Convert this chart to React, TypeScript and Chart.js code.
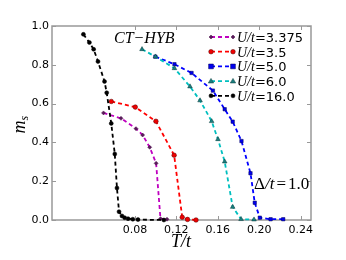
import React, { useEffect, useRef } from "react";
import { Chart, registerables } from "chart.js";

Chart.register(...registerables);

// ---- data ----
const seriesNames = ["3.375", "3.5", "5.0", "6.0", "16.0"];

const tU3375 = [0.0497, 0.0666, 0.0811, 0.0875, 0.0943, 0.1005, 0.1047, 0.111];
const mU3375 = [0.552, 0.524, 0.471, 0.438, 0.375, 0.292, 0.007, 0.004];

const tU35 = [0.0572, 0.0804, 0.1003, 0.1179, 0.1257, 0.1308, 0.139];
const mU35 = [0.611, 0.582, 0.509, 0.334, 0.014, 0.003, 0.0];

const tU5 = [0.0998, 0.1182, 0.1347, 0.1553, 0.1667, 0.1744, 0.1829, 0.1916, 0.1957, 0.2006, 0.211, 0.2232];
const mU5 = [0.842, 0.803, 0.758, 0.667, 0.571, 0.507, 0.407, 0.241, 0.089, 0.012, 0.004, 0.004];

const tU6 = [0.0869, 0.0998, 0.1182, 0.1332, 0.1429, 0.1541, 0.1602, 0.1667, 0.1744, 0.1825, 0.195];
const mU6 = [0.88, 0.842, 0.782, 0.688, 0.616, 0.509, 0.416, 0.301, 0.067, 0.004, 0.002];

const tU16 = [0.0303, 0.0361, 0.0402, 0.0444, 0.0507, 0.0528, 0.0572, 0.0606, 0.0627, 0.0647, 0.0675, 0.0701, 0.0734, 0.078, 0.083, 0.108];
const mU16 = [0.957, 0.915, 0.88, 0.817, 0.714, 0.656, 0.498, 0.34, 0.165, 0.043, 0.021, 0.012, 0.007, 0.004, 0.002, 0.0];

const xTicks = [0.08, 0.12, 0.16, 0.2, 0.24];
const yTicks = [0, 0.2, 0.4, 0.6, 0.8, 1.0];

const allT = [tU3375, tU35, tU5, tU6, tU16];
const allM = [mU3375, mU35, mU5, mU6, mU16];

// ---- styles ----
const lineColors = ["#bf00bf", "#ff0000", "#0000ff", "#00bfbf", "#000000"];
const markerFill = ["#5a1a5a", "#ee0000", "#0000ee", "#1a7f7f", "#000000"];
const markerEdge = ["#4a104a", "#550000", "#000055", "#0a3a3a", "#000000"];
const markerStyle = ["rectRot", "circle", "rect", "triangle", "circle"];
const markerRadius = [2, 2.3, 2.4, 2.7, 2];

const SERIF = "'Liberation Serif', 'DejaVu Serif', serif";
const SANS = "'DejaVu Sans', sans-serif";
const FRAME = "#999999";

function drawMarker(ctx: CanvasRenderingContext2D, i: number, x: number, y: number) {
  ctx.save();
  ctx.fillStyle = markerFill[i];
  ctx.strokeStyle = markerEdge[i];
  ctx.lineWidth = 0.5;
  ctx.setLineDash([]);
  const r = markerRadius[i];
  ctx.beginPath();
  if (markerStyle[i] === "circle") {
    ctx.arc(x, y, r, 0, Math.PI * 2);
  } else if (markerStyle[i] === "rect") {
    ctx.rect(x - r, y - r, 2 * r, 2 * r);
  } else if (markerStyle[i] === "rectRot") {
    ctx.moveTo(x, y - r);
    ctx.lineTo(x + r, y);
    ctx.lineTo(x, y + r);
    ctx.lineTo(x - r, y);
    ctx.closePath();
  } else {
    ctx.moveTo(x, y - r);
    ctx.lineTo(x + r, y + r * 0.7);
    ctx.lineTo(x - r, y + r * 0.7);
    ctx.closePath();
  }
  ctx.fill();
  ctx.stroke();
  ctx.restore();
}

const decorPlugin = {
  id: "decor",
  beforeDatasetsDraw(chart: any) {
    const { ctx, chartArea: a, scales } = chart;
    ctx.save();
    ctx.strokeStyle = FRAME;
    ctx.lineWidth = 1.5;
    ctx.setLineDash([]);
    ctx.strokeRect(a.left, a.top, a.right - a.left, a.bottom - a.top);
    ctx.lineWidth = 1;
    const tl = 4;
    ctx.beginPath();
    for (const v of xTicks) {
      const x = Math.round(scales.x.getPixelForValue(v)) + 0.5;
      ctx.moveTo(x, a.bottom);
      ctx.lineTo(x, a.bottom - tl);
      ctx.moveTo(x, a.top);
      ctx.lineTo(x, a.top + tl);
    }
    for (const v of yTicks) {
      const y = Math.round(scales.y.getPixelForValue(v)) + 0.5;
      ctx.moveTo(a.left, y);
      ctx.lineTo(a.left + tl, y);
      ctx.moveTo(a.right, y);
      ctx.lineTo(a.right - tl, y);
    }
    ctx.stroke();
    ctx.restore();
  },
  afterDraw(chart: any) {
    const { ctx } = chart;
    ctx.save();
    ctx.fillStyle = "#000";
    ctx.textBaseline = "alphabetic";
    ctx.textAlign = "left";

    // CT-HYB label
    ctx.font = `italic 16px ${SERIF}`;
    ctx.fillText("CT\u2212HYB", 114, 43);

    // Delta/t = 1.0
    let x = 254;
    const by = 189;
    ctx.font = `17px ${SERIF}`;
    ctx.fillText("\u0394", x, by);
    x += ctx.measureText("\u0394").width;
    ctx.font = `italic 17px ${SERIF}`;
    ctx.fillText("/t", x, by);
    x += ctx.measureText("/t").width + 2;
    ctx.font = `17px ${SERIF}`;
    ctx.fillText("=", x, by);
    x += ctx.measureText("=").width + 2;
    ctx.fillText("1.0", x, by);

    // x label
    ctx.font = `italic 18px ${SERIF}`;
    ctx.textAlign = "center";
    ctx.fillText("T/t", 181, 247);

    // y label m_s
    ctx.save();
    ctx.translate(25, 124);
    ctx.rotate(-Math.PI / 2);
    ctx.textAlign = "left";
    ctx.font = `italic 18px ${SERIF}`;
    const mw = ctx.measureText("m").width;
    ctx.fillText("m", -(mw + 6) / 2, 0);
    ctx.font = `italic 12px ${SERIF}`;
    ctx.fillText("s", -(mw + 6) / 2 + mw, 3);
    ctx.restore();

    // legend
    const rowY0 = 37;
    const rowDy = 14.7;
    for (let i = 0; i < seriesNames.length; i++) {
      const y = rowY0 + i * rowDy;
      ctx.save();
      ctx.strokeStyle = lineColors[i];
      ctx.lineWidth = 1.8;
      ctx.setLineDash([4, 3]);
      ctx.beginPath();
      ctx.moveTo(211, y);
      ctx.lineTo(233, y);
      ctx.stroke();
      ctx.restore();
      drawMarker(ctx, i, 211, y);
      drawMarker(ctx, i, 233, y);
      let tx = 237;
      const ty = y + 5;
      ctx.textAlign = "left";
      ctx.font = `italic 14px ${SERIF}`;
      ctx.fillText("U/t", tx, ty);
      tx += ctx.measureText("U/t").width;
      ctx.font = `13px ${SANS}`;
      ctx.fillText("=" + seriesNames[i], tx, ty);
    }
    ctx.restore();
  },
};

export default function App() {
  const ref = useRef<HTMLCanvasElement | null>(null);

  useEffect(() => {
    if (!ref.current) return;
    const datasets = seriesNames.map((name, i) => ({
      label: "U/t=" + name,
      data: allT[i].map((t, k) => ({ x: t, y: allM[i][k] })),
      borderColor: lineColors[i],
      borderWidth: 1.8,
      borderDash: [4, 3],
      backgroundColor: markerFill[i],
      pointBackgroundColor: markerFill[i],
      pointBorderColor: markerEdge[i],
      pointBorderWidth: 0.5,
      pointStyle: markerStyle[i],
      pointRadius: markerRadius[i],
      pointHoverRadius: markerRadius[i],
      fill: false,
      tension: 0,
      clip: 6,
      order: seriesNames.length - i,
    }));

    const chart = new Chart(ref.current, {
      type: "line",
      data: { datasets },
      options: {
        animation: false,
        responsive: false,
        devicePixelRatio: 1,
        layout: { padding: { top: 26, right: 35, bottom: 0, left: 0 } },
        plugins: { legend: { display: false }, tooltip: { enabled: false } },
        scales: {
          x: {
            type: "linear",
            min: 0,
            max: 0.25,
            afterBuildTicks: (s: any) => {
              s.ticks = xTicks.map((v) => ({ value: v }));
            },
            afterFit: (s: any) => {
              s.height = 40;
            },
            grid: { display: false, drawTicks: false },
            border: { display: false },
            ticks: {
              color: "#000",
              font: { family: SANS, size: 11 },
              padding: 4,
              maxRotation: 0,
              autoSkip: false,
              callback: (v: any) => Number(v).toFixed(2),
            },
          },
          y: {
            type: "linear",
            min: 0,
            max: 1,
            afterBuildTicks: (s: any) => {
              s.ticks = yTicks.map((v) => ({ value: v }));
            },
            afterFit: (s: any) => {
              s.width = 52;
            },
            grid: { display: false, drawTicks: false },
            border: { display: false },
            ticks: {
              color: "#000",
              font: { family: SANS, size: 11 },
              padding: 3,
              autoSkip: false,
              callback: (v: any) => Number(v).toFixed(1),
            },
          },
        },
      },
      plugins: [decorPlugin],
    } as any);
    return () => chart.destroy();
  }, []);

  return (
    <div style={{ position: "absolute", left: 0, top: 0, width: 346, height: 260, background: "#fff" }}>
      <canvas ref={ref} width={346} height={260} style={{ width: 346, height: 260, display: "block" }} />
    </div>
  );
}
